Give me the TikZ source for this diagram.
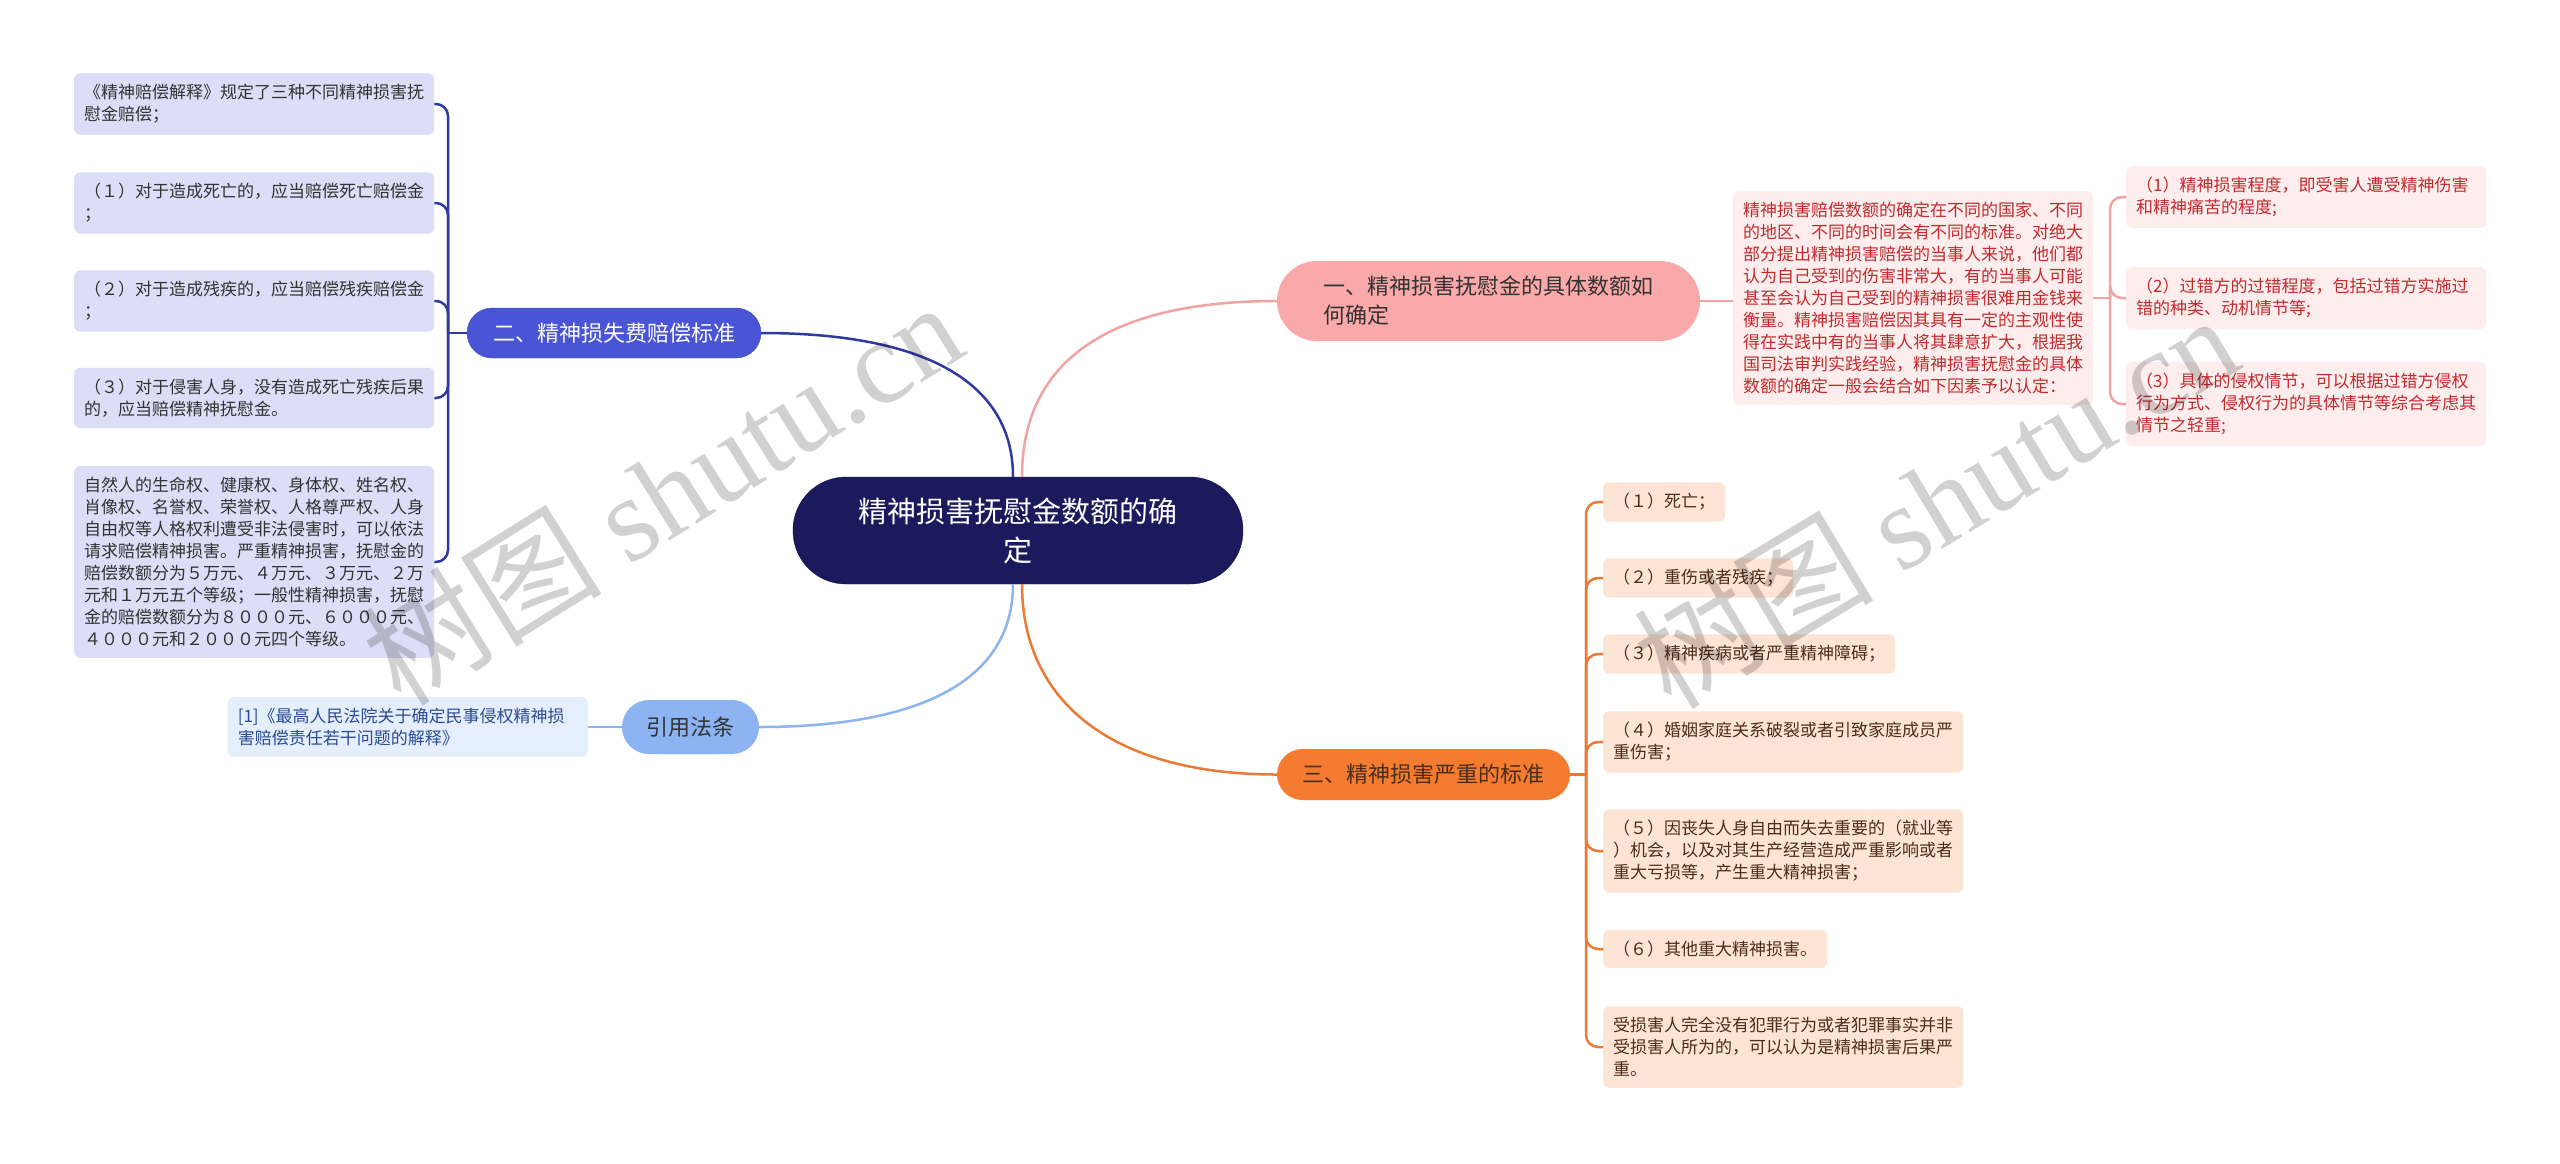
\documentclass[tikz,border=0pt]{standalone}
\usepackage{fontspec}
\setmainfont{Noto Sans CJK SC}
\newfontfamily\wmlatin{Liberation Serif}
\definecolor{navy}{HTML}{1B1A5C}
\definecolor{blueB}{HTML}{4A55D6}
\definecolor{blueL}{HTML}{2F3AA0}
\definecolor{lav}{HTML}{DCDDF6}
\definecolor{sky}{HTML}{8CB3F2}
\definecolor{citebg}{HTML}{E5EEFC}
\definecolor{citeT}{HTML}{2B4C94}
\definecolor{pinkN}{HTML}{F9A9A9}
\definecolor{pinkL}{HTML}{EFA3A3}
\definecolor{pinkBG}{HTML}{FDEDED}
\definecolor{redT}{HTML}{C22A2E}
\definecolor{orN}{HTML}{F47B30}
\definecolor{orL}{HTML}{EA7A35}
\definecolor{orBG}{HTML}{FDE4D4}
\definecolor{brT}{HTML}{4A2E1A}
\definecolor{darkT}{HTML}{333333}
\tikzset{
  leaf/.style={rounded corners=6pt, inner xsep=10pt, inner ysep=11pt, align=left,
    font=\fontsize{17}{22}\selectfont},
  wide/.style={text width=340pt},
  leafL/.style={leaf, fill=lav, text=darkT, anchor=west},
  leafP/.style={leaf, fill=pinkBG, text=redT, anchor=west},
  leafO/.style={leaf, fill=orBG, text=brT, anchor=west},
  branch/.style={inner sep=0pt, font=\fontsize{22}{29}\selectfont},
  conn/.style={line width=2.5pt},
  wm/.style={text=black, opacity=0.18, font=\fontsize{120}{120}\selectfont}
}
\begin{document}
\begin{tikzpicture}[x=1pt, y=-1pt]
\fill[white] (0,0) rectangle (2560,1163);
\useasboundingbox (0,0) rectangle (2560,1163);

% central
\node[fill=navy, draw=navy!85!black, text=white, rounded corners=53pt, minimum width=450pt,
  minimum height=107pt, inner sep=0pt, align=center, font=\fontsize{29}{39}\selectfont]
  (c) at (1018,530.5) {精神损害抚慰金数额的确\\定};

% branches
\node[branch, fill=blueB, draw=blueB!85!black, text=white, rounded corners=25pt,
  minimum width=294pt, minimum height=50pt] (b2) at (614,333) {二、精神损失费赔偿标准};
\node[branch, fill=pinkN, text=darkT, rounded corners=40pt, minimum width=423pt,
  minimum height=80pt, align=left] (b1) at (1488.5,301) {一、精神损害抚慰金的具体数额如\\何确定};
\node[branch, fill=sky, text=darkT, rounded corners=27pt, minimum width=137pt,
  minimum height=54pt] (b4) at (690.5,727) {引用法条};
\node[branch, fill=orN, text=brT, rounded corners=25.5pt, minimum width=293pt,
  minimum height=51pt] (b3) at (1423.5,774.5) {三、精神损害严重的标准};

% left leaves
\node[leafL, wide] (l1) at (74,104) {《精神赔偿解释》规定了三种不同精神损害抚\\慰金赔偿；};
\node[leafL, wide] (l2) at (74,203) {（１）对于造成死亡的，应当赔偿死亡赔偿金\\；};
\node[leafL, wide] (l3) at (74,301) {（２）对于造成残疾的，应当赔偿残疾赔偿金\\；};
\node[leafL, wide] (l4) at (74,398) {（３）对于侵害人身，没有造成死亡残疾后果\\的，应当赔偿精神抚慰金。};
\node[leafL, wide] (l5) at (74,562) {自然人的生命权、健康权、身体权、姓名权、\\肖像权、名誉权、荣誉权、人格尊严权、人身\\自由权等人格权利遭受非法侵害时，可以依法\\请求赔偿精神损害。严重精神损害，抚慰金的\\赔偿数额分为５万元、４万元、３万元、２万\\元和１万元五个等级；一般性精神损害，抚慰\\金的赔偿数额分为８０００元、６０００元、\\４０００元和２０００元四个等级。};

% citation
\node[leaf, wide, fill=citebg, text=citeT, anchor=east] (ct) at (588,727) {[1]《最高人民法院关于确定民事侵权精神损\\害赔偿责任若干问题的解释》};

% pink
\node[leafP, wide] (pb) at (1733,298) {精神损害赔偿数额的确定在不同的国家、不同\\的地区、不同的时间会有不同的标准。对绝大\\部分提出精神损害赔偿的当事人来说，他们都\\认为自己受到的伤害非常大，有的当事人可能\\甚至会认为自己受到的精神损害很难用金钱来\\衡量。精神损害赔偿因其具有一定的主观性使\\得在实践中有的当事人将其肆意扩大，根据我\\国司法审判实践经验，精神损害抚慰金的具体\\数额的确定一般会结合如下因素予以认定：};
\node[leafP, wide] (r1) at (2126,197) {（1）精神损害程度，即受害人遭受精神伤害\\和精神痛苦的程度;};
\node[leafP, wide] (r2) at (2126,298) {（2）过错方的过错程度，包括过错方实施过\\错的种类、动机情节等;};
\node[leafP, wide] (r3) at (2126,404) {（3）具体的侵权情节，可以根据过错方侵权\\行为方式、侵权行为的具体情节等综合考虑其\\情节之轻重;};

% orange
\node[leafO] (o1) at (1603,502) {（１）死亡；};
\node[leafO] (o2) at (1603,578) {（２）重伤或者残疾；};
\node[leafO] (o3) at (1603,654) {（３）精神疾病或者严重精神障碍；};
\node[leafO, wide] (o4) at (1603,742) {（４）婚姻家庭关系破裂或者引致家庭成员严\\重伤害；};
\node[leafO, wide] (o5) at (1603,851) {（５）因丧失人身自由而失去重要的（就业等\\）机会，以及对其生产经营造成严重影响或者\\重大亏损等，产生重大精神损害；};
\node[leafO] (o6) at (1603,949) {（６）其他重大精神损害。};
\node[leafO, wide] (o7) at (1603,1047) {受损害人完全没有犯罪行为或者犯罪事实并非\\受损害人所为的，可以认为是精神损害后果严\\重。};

% central connectors
\coordinate (cTL) at ([xshift=-5pt]c.north);
\coordinate (cTR) at ([xshift=4pt]c.north);
\coordinate (cBL) at ([xshift=-5pt]c.south);
\coordinate (cBR) at ([xshift=4pt]c.south);
\draw[conn, blueL] (cTL) .. controls (1013,382) and (925,333) .. (b2.east);
\draw[conn, pinkL] (cTR) .. controls (1022,360) and (1110,301) .. (b1.west);
\draw[conn, sky] (cBL) .. controls (1013,678) and (925,727) .. (b4.east);
\draw[conn, orL] (cBR) .. controls (1022,700) and (1110,774.5) .. (b3.west);

% left tree
\coordinate (jl) at (448,333);
\draw[conn, blueL] (b2.west) -- (jl);
\foreach \n in {l1,l2,l3,l4,l5}{
  \draw[conn, blueL, rounded corners=12pt] (jl) |- (\n.east);
}
\draw[conn, sky] (b4.west) -- (ct.east);

% pink tree
\draw[conn, pinkL] (b1.east) -- (b1.east -| pb.west);
\coordinate (jr) at (2110,298);
\draw[conn, pinkL] (pb.east) -- (jr);
\foreach \n in {r1,r2,r3}{
  \draw[conn, pinkL, rounded corners=12pt] (jr) |- (\n.west);
}

% orange tree
\coordinate (jo) at (1586,774.5);
\draw[conn, orL] (b3.east) -- (jo);
\foreach \n in {o1,o2,o3,o4,o5,o6,o7}{
  \draw[conn, orL, rounded corners=12pt] (jo) |- (\n.west);
}

% watermarks
\node[wm, rotate=32] (wm1) at (662,492) {树图 {\wmlatin shutu.cn}};
\node[wm, rotate=31] (wm2) at (1935,500) {树图 {\wmlatin shutu.cn}};
\end{tikzpicture}
\end{document}
